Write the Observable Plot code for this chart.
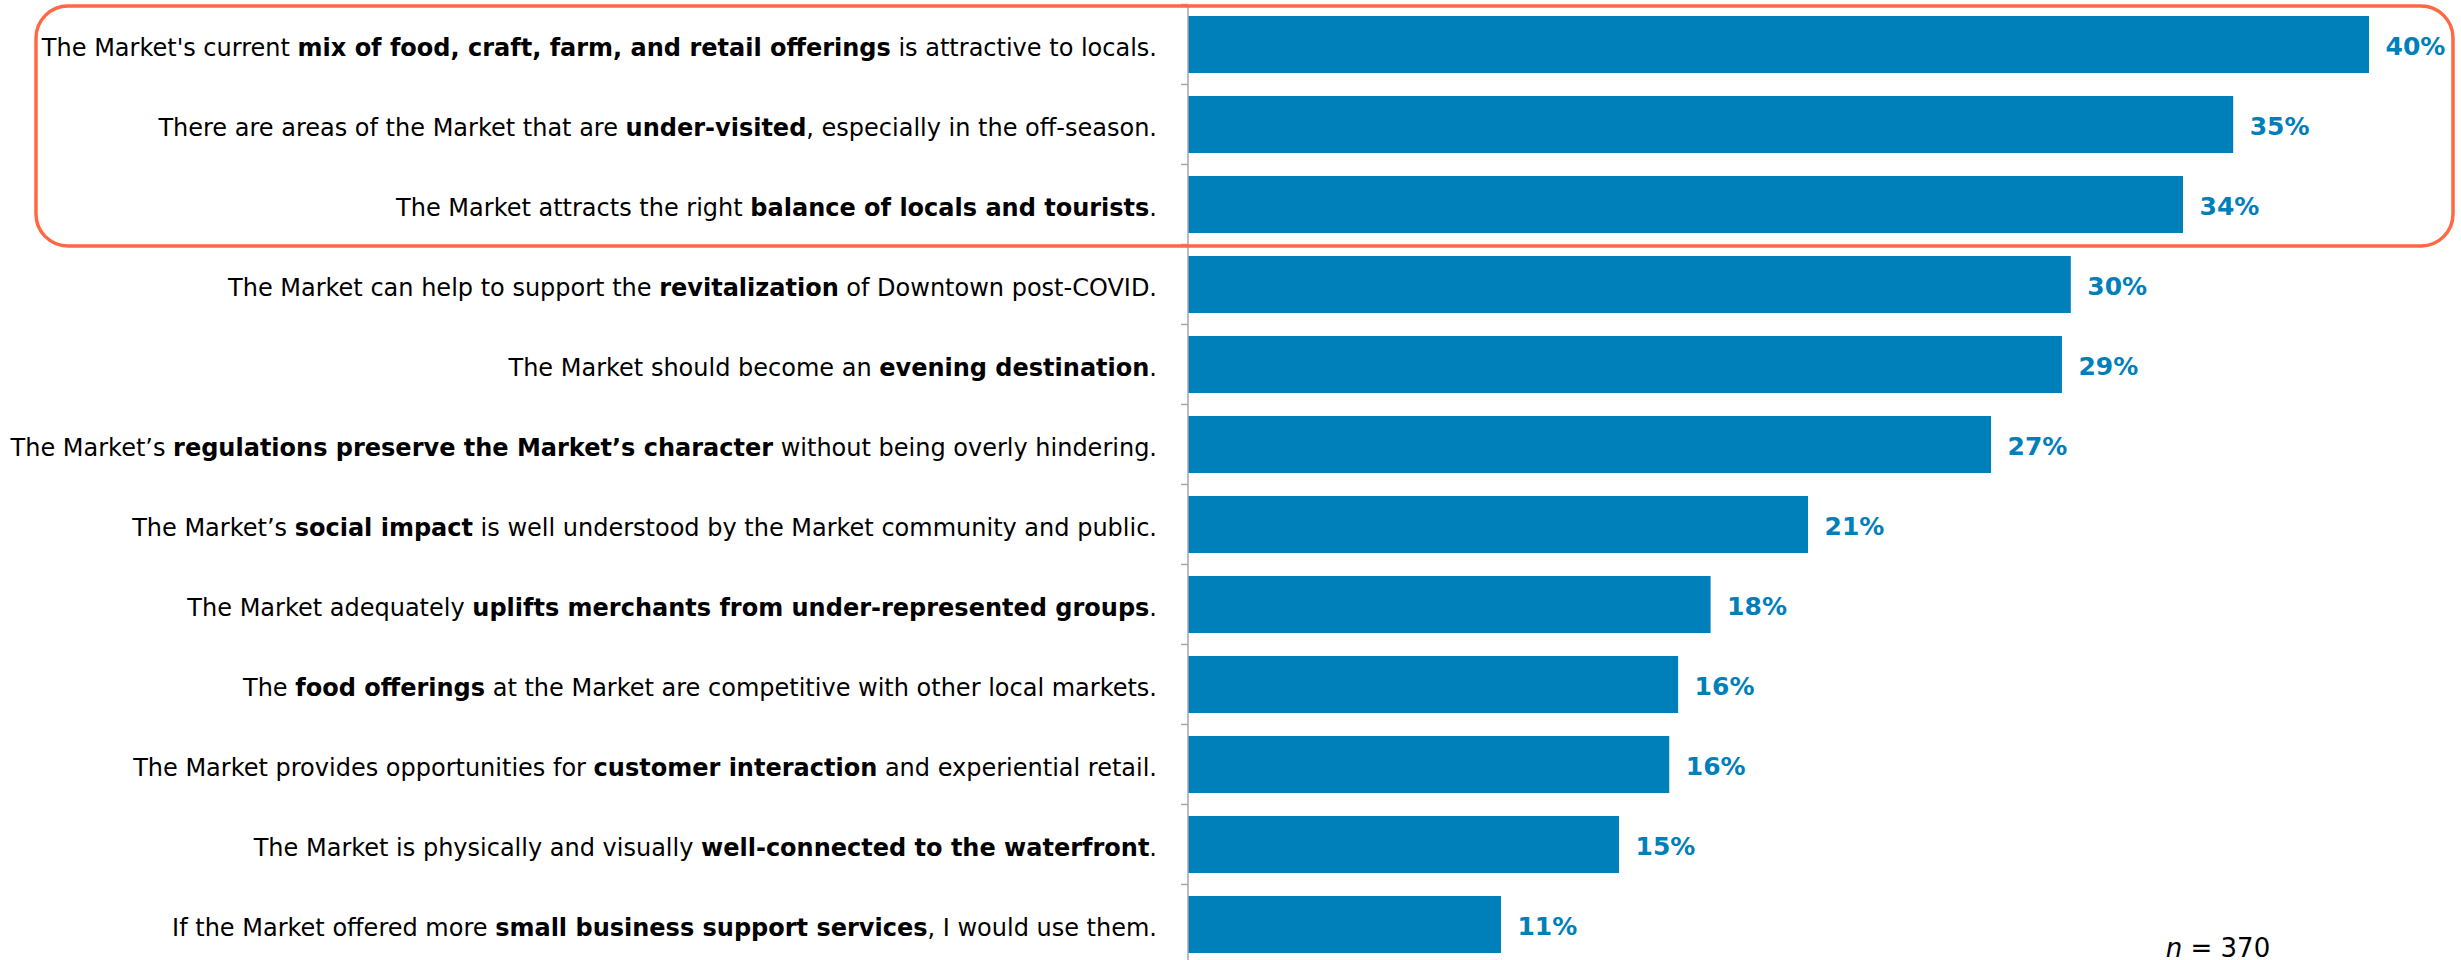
<!DOCTYPE html>
<html>
<head>
<meta charset="utf-8">
<script src="https://cdn.jsdelivr.net/npm/d3@7"></script>
<script src="https://cdn.jsdelivr.net/npm/@observablehq/plot@0.6"></script>
<style>
  html, body { margin: 0; padding: 0; background: #ffffff; overflow: hidden; }
</style>
</head>
<body>
<div id="chart"></div>
<script>
// ---- Data ----
const prefixes = [
  "The Market's current ",
  "There are areas of the Market that are ",
  "The Market attracts the right ",
  "The Market can help to support the ",
  "The Market should become an ",
  "The Market\u2019s ",
  "The Market\u2019s ",
  "The Market adequately ",
  "The ",
  "The Market provides opportunities for ",
  "The Market is physically and visually ",
  "If the Market offered more "
];
const boldParts = [
  "mix of food, craft, farm, and retail offerings",
  "under-visited",
  "balance of locals and tourists",
  "revitalization",
  "evening destination",
  "regulations preserve the Market\u2019s character",
  "social impact",
  "uplifts merchants from under-represented groups",
  "food offerings",
  "customer interaction",
  "well-connected to the waterfront",
  "small business support services"
];
const suffixes = [
  " is attractive to locals.",
  ", especially in the off-season.",
  ".",
  " of Downtown post-COVID.",
  ".",
  " without being overly hindering.",
  " is well understood by the Market community and public.",
  ".",
  " at the Market are competitive with other local markets.",
  " and experiential retail.",
  ".",
  ", I would use them."
];
const shares = [40.0, 35.4, 33.7, 29.9, 29.6, 27.2, 21.0, 17.7, 16.6, 16.3, 14.6, 10.6];
const valueLabels = ["40%", "35%", "34%", "30%", "29%", "27%", "21%", "18%", "16%", "16%", "15%", "11%"];
const highlighted = [0, 1, 2];
const noteItalic = "n";
const noteRest = " = 370";

// ---- Style ----
const W = 2461, H = 960;
const FONT = "'DejaVu Sans', Verdana, sans-serif";
const BLUE = "#0080BB";
const ORANGE = "#FF6843";

const data = prefixes.map((p, i) => ({
  key: p + boldParts[i] + suffixes[i],
  pre: p, bold: boldParts[i], post: suffixes[i],
  value: shares[i], label: valueLabels[i]
}));

function categoryAxis(index, scales, values, dimensions) {
  const x = scales.x, y = scales.y;
  const bw = y.bandwidth(), step = y.step();
  const x0 = x(0);
  const g = d3.create("svg:g");
  // boundaries between categories
  const bounds = data.map(d => y(d.key) - (step - bw) / 2);
  bounds.push(bounds[bounds.length - 1] + step);
  const hTop = bounds[highlighted[0]] + 1.5;
  const hBot = bounds[highlighted[highlighted.length - 1] + 1] + 1.5;
  // axis line + between-category ticks
  g.append("line")
    .attr("x1", x0).attr("x2", x0)
    .attr("y1", bounds[0]).attr("y2", bounds[bounds.length - 1])
    .attr("stroke", "#A6A6A6").attr("stroke-width", 1.5);
  g.append("g").selectAll("line").data(bounds).join("line")
    .attr("x1", x0 - 7).attr("x2", x0)
    .attr("y1", d => d).attr("y2", d => d)
    .attr("stroke", "#A6A6A6").attr("stroke-width", 1.5);
  // category labels with bold emphasis
  const t = g.append("g")
    .attr("font-family", FONT).attr("font-size", 24).attr("fill", "#000")
    .attr("text-anchor", "end")
    .selectAll("text").data(data).join("text")
    .attr("x", x0 - 31)
    .attr("y", d => y(d.key) + bw / 2 + 11.5);
  t.append("tspan").text(d => d.pre);
  t.append("tspan").attr("font-weight", "bold").text(d => d.bold);
  t.append("tspan").text(d => d.post);
  // highlight box around the top statements
  g.append("rect")
    .attr("x", 36).attr("y", hTop)
    .attr("width", dimensions.width - 8 - 36).attr("height", hBot - hTop)
    .attr("rx", 32).attr("ry", 32)
    .attr("fill", "none").attr("stroke", ORANGE).attr("stroke-width", 3.5);
  // sample size note
  const n = g.append("text")
    .attr("font-family", FONT).attr("font-size", 26).attr("fill", "#000")
    .attr("x", dimensions.width - 243).attr("y", dimensions.height - 3);
  n.append("tspan").attr("font-style", "italic").text(noteItalic);
  n.append("tspan").text(noteRest);
  return g.node();
}

const chart = Plot.plot({
  width: W,
  height: H,
  marginLeft: 1188,
  marginRight: 92,
  marginTop: 4.5,
  marginBottom: 0,
  style: { fontFamily: FONT, background: "white", overflow: "visible" },
  x: { domain: [0, 40], range: [1188, 2369], axis: null },
  y: { domain: data.map(d => d.key), range: [4.5, 964.5], paddingInner: 0.29, paddingOuter: 0.145, axis: null },
  marks: [
    Plot.barX(data, { x: "value", y: "key", fill: BLUE }),
    Plot.text(data, {
      x: "value", y: "key", text: "label",
      textAnchor: "start", dx: 16, dy: 2,
      fill: BLUE, fontWeight: "bold", fontSize: 25
    }),
    categoryAxis
  ]
});
document.getElementById("chart").appendChild(chart);
</script>
</body>
</html>
